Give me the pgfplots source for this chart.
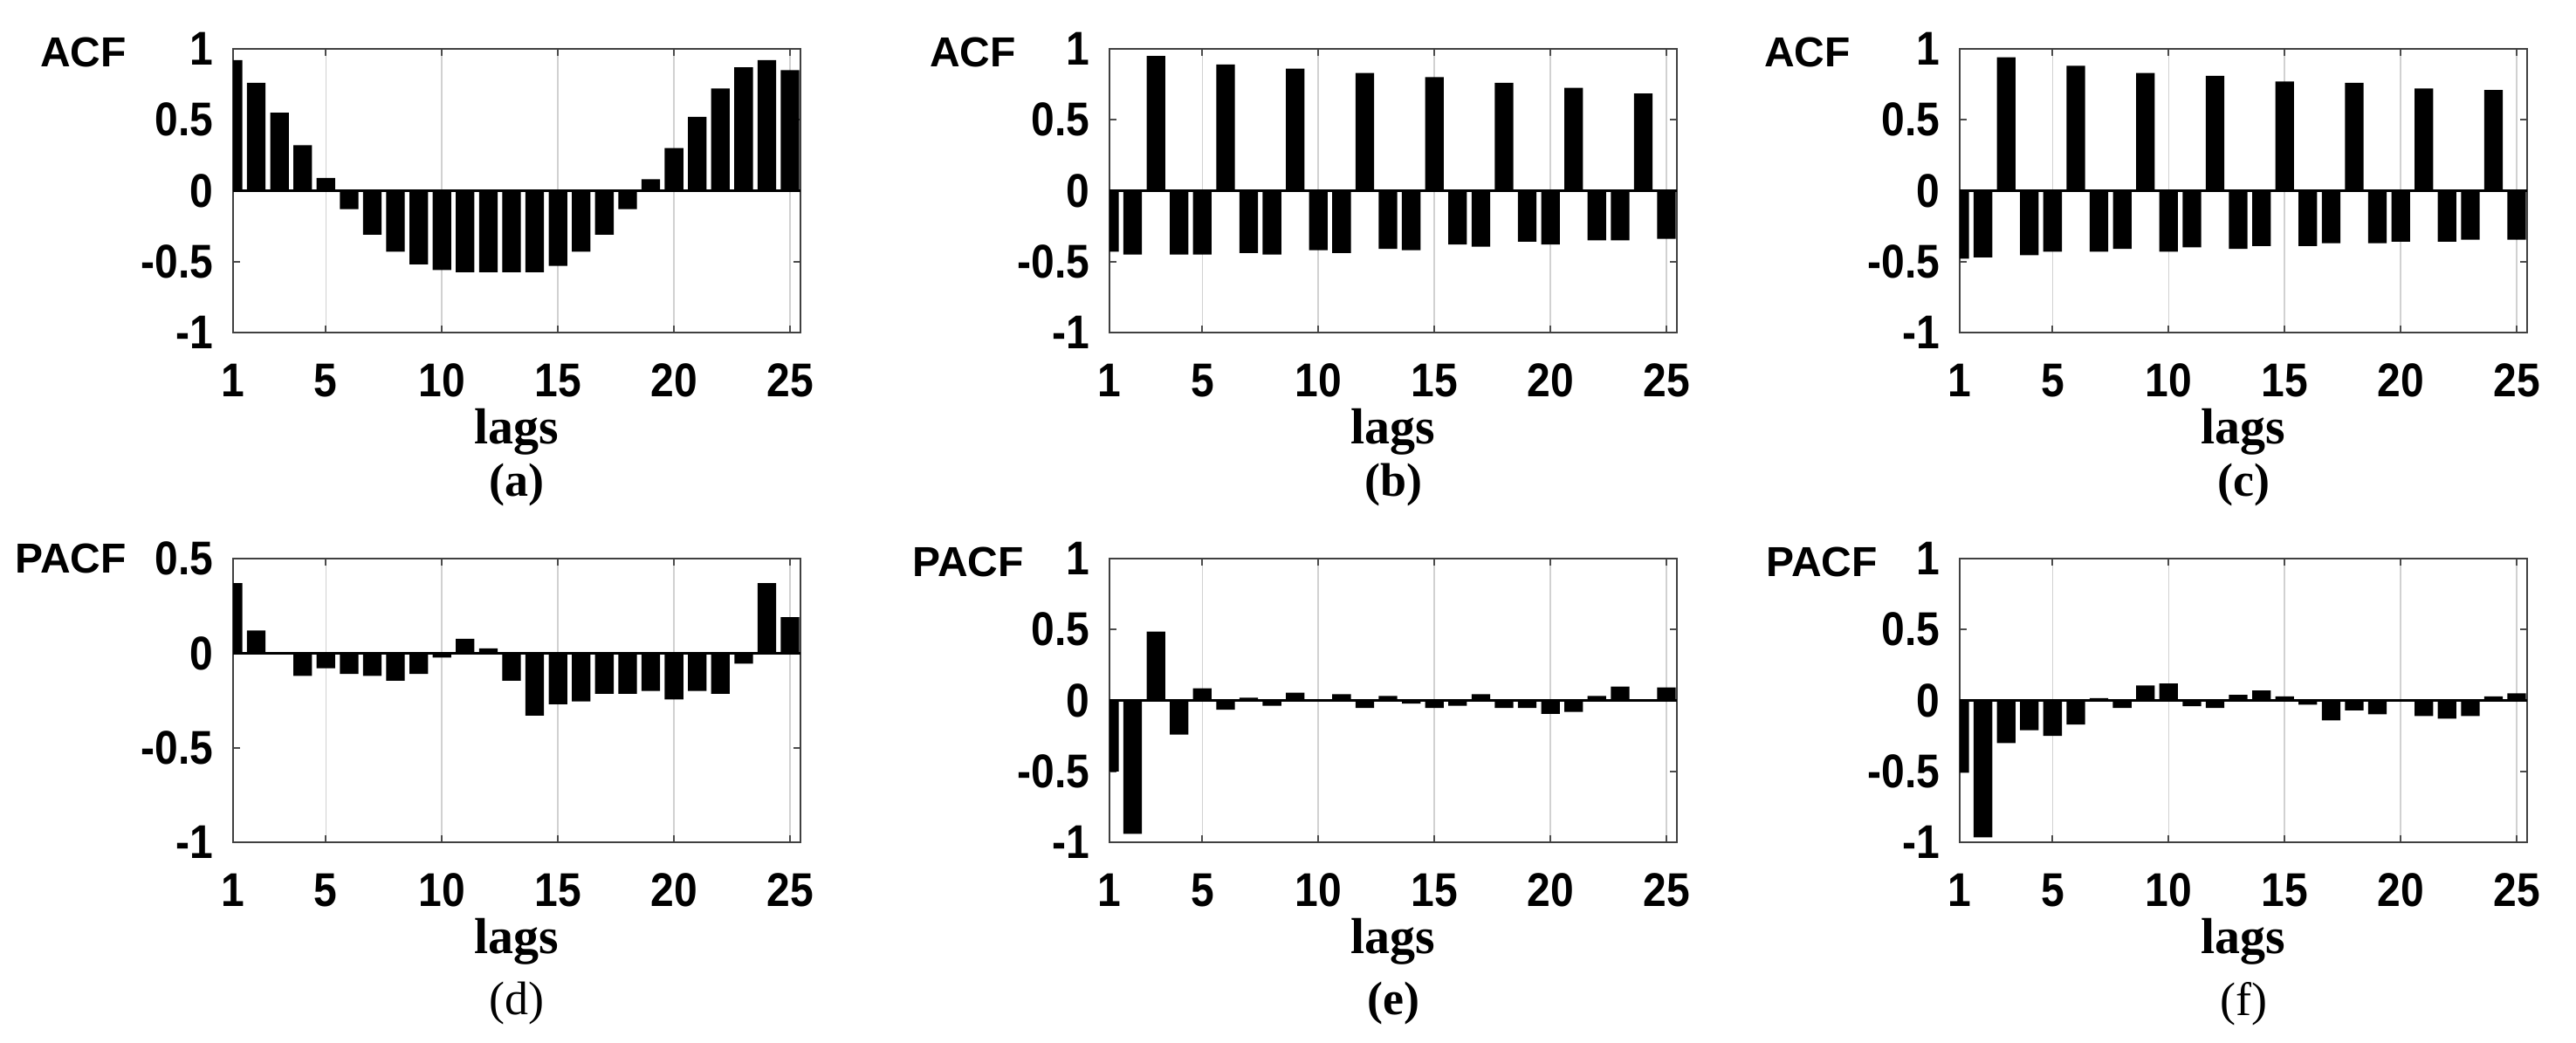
\documentclass[border=0pt]{standalone}
\usepackage{pgfplots}
\pgfplotsset{compat=1.18}
\usepackage{fontspec}
\setmainfont{Liberation Serif}
\setsansfont{Liberation Sans}
\newcommand{\tickfont}{\sffamily\bfseries\fontsize{12}{12}\selectfont}
\newcommand{\labfont}{\sffamily\bfseries\fontsize{12}{12}\selectfont}
\newcommand{\lagfont}{\rmfamily\bfseries\fontsize{14.5}{14.5}\selectfont}
\newcommand{\capfont}{\rmfamily\fontsize{13.5}{13.5}\selectfont}

\pgfplotsset{
  acf/.style={
    scale only axis, width=162.5pt, height=81.25pt,
    anchor=north west,
    xmin=1, xmax=25.45,
    xtick={1,5,10,15,20,25},
    xmajorgrids, major grid style={black!18, line width=0.4pt},
    tick align=inside, major tick length=2pt,
    tick style={black!70, line width=0.5pt},
    axis line style={black!75, line width=0.7pt},
    /pgf/number format/assume math mode=true,
    tick label style={font=\tickfont, inner sep=0pt},
    xticklabel style={anchor=center, yshift=-13.75pt},
    yticklabel style={anchor=east, xshift=-5.5pt},
    xticklabel={\scalebox{1}[1.13]{\pgfmathprintnumber{\tick}}},
    yticklabel={\scalebox{1}[1.13]{\pgfmathprintnumber{\tick}}},
  },
  bars/.style={ybar, bar width=0.8, fill=black, draw=none},
  zline/.style={black, line width=0.7pt, no marks},
}

\begin{document}
\begin{tikzpicture}
\path[use as bounding box] (0,0) rectangle (737.75pt,-298.75pt);

% (a)
\begin{axis}[acf, at={(66.75pt,-14pt)}, ymin=-1, ymax=1, ytick={-1,-0.5,0,0.5,1},
  extra description/.code={
    \node[font=\labfont, anchor=east, xshift=-27pt, yshift=-1pt] at (axis description cs:0,1) {ACF};
    \node[font=\lagfont, yshift=-28.5pt] at (axis description cs:0.5,0) {lags};
    \node[font=\capfont\bfseries, yshift=-43.75pt] at (axis description cs:0.5,0) {(a)};
  }]
\addplot[bars] coordinates {
(1,0.92) (2,0.76) (3,0.55) (4,0.32) (5,0.09) (6,-0.13) (7,-0.31) (8,-0.43) (9,-0.52) (10,-0.56)
(11,-0.575) (12,-0.575) (13,-0.575) (14,-0.575) (15,-0.53) (16,-0.43) (17,-0.31) (18,-0.13) (19,0.08) (20,0.30)
(21,0.52) (22,0.72) (23,0.87) (24,0.92) (25,0.85)};
\addplot[zline] coordinates {(1,0) (25.45,0)};
\end{axis}

% (b)
\begin{axis}[acf, at={(317.75pt,-14pt)}, ymin=-1, ymax=1, ytick={-1,-0.5,0,0.5,1},
  extra description/.code={
    \node[font=\labfont, anchor=east, xshift=-23.25pt, yshift=-1pt] at (axis description cs:0,1) {ACF};
    \node[font=\lagfont, yshift=-28.5pt] at (axis description cs:0.5,0) {lags};
    \node[font=\capfont\bfseries, yshift=-43.75pt] at (axis description cs:0.5,0) {(b)};
  }]
\addplot[bars] coordinates {
(1,-0.43) (2,-0.45) (3,0.95) (4,-0.45) (5,-0.45) (6,0.89) (7,-0.44) (8,-0.45) (9,0.86) (10,-0.42)
(11,-0.44) (12,0.83) (13,-0.41) (14,-0.42) (15,0.80) (16,-0.38) (17,-0.395) (18,0.76) (19,-0.36) (20,-0.38)
(21,0.725) (22,-0.35) (23,-0.35) (24,0.685) (25,-0.34)};
\addplot[zline] coordinates {(1,0) (25.45,0)};
\end{axis}

% (c)
\begin{axis}[acf, at={(561.25pt,-14pt)}, ymin=-1, ymax=1, ytick={-1,-0.5,0,0.5,1},
  extra description/.code={
    \node[font=\labfont, anchor=east, xshift=-27.75pt, yshift=-1pt] at (axis description cs:0,1) {ACF};
    \node[font=\lagfont, yshift=-28.5pt] at (axis description cs:0.5,0) {lags};
    \node[font=\capfont\bfseries, yshift=-43.75pt] at (axis description cs:0.5,0) {(c)};
  }]
\addplot[bars] coordinates {
(1,-0.48) (2,-0.47) (3,0.94) (4,-0.455) (5,-0.43) (6,0.88) (7,-0.43) (8,-0.41) (9,0.83) (10,-0.43)
(11,-0.40) (12,0.81) (13,-0.41) (14,-0.39) (15,0.77) (16,-0.39) (17,-0.37) (18,0.76) (19,-0.37) (20,-0.36)
(21,0.72) (22,-0.36) (23,-0.345) (24,0.71) (25,-0.345)};
\addplot[zline] coordinates {(1,0) (25.45,0)};
\end{axis}

% (d)
\begin{axis}[acf, at={(66.75pt,-160pt)}, ymin=-1, ymax=0.5, ytick={-1,-0.5,0,0.5},
  extra description/.code={
    \node[font=\labfont, anchor=east, xshift=-27pt, yshift=0pt] at (axis description cs:0,1) {PACF};
    \node[font=\lagfont, yshift=-28.5pt] at (axis description cs:0.5,0) {lags};
    \node[font=\capfont, yshift=-46.25pt] at (axis description cs:0.5,0) {(d)};
  }]
\addplot[bars] coordinates {
(1,0.37) (2,0.12) (3,0.005) (4,-0.12) (5,-0.08) (6,-0.11) (7,-0.12) (8,-0.145) (9,-0.11) (10,-0.023)
(11,0.076) (12,0.025) (13,-0.145) (14,-0.33) (15,-0.27) (16,-0.255) (17,-0.215) (18,-0.215) (19,-0.20) (20,-0.245)
(21,-0.20) (22,-0.215) (23,-0.056) (24,0.37) (25,0.19)};
\addplot[zline] coordinates {(1,0) (25.45,0)};
\end{axis}

% (e)
\begin{axis}[acf, at={(317.75pt,-160pt)}, ymin=-1, ymax=1, ytick={-1,-0.5,0,0.5,1},
  extra description/.code={
    \node[font=\labfont, anchor=east, xshift=-21pt, yshift=-1pt] at (axis description cs:0,1) {PACF};
    \node[font=\lagfont, yshift=-28.5pt] at (axis description cs:0.5,0) {lags};
    \node[font=\capfont\bfseries, yshift=-46.25pt] at (axis description cs:0.5,0) {(e)};
  }]
\addplot[bars] coordinates {
(1,-0.50) (2,-0.94) (3,0.485) (4,-0.24) (5,0.085) (6,-0.065) (7,0.02) (8,-0.037) (9,0.055) (10,0.0)
(11,0.044) (12,-0.053) (13,0.032) (14,-0.023) (15,-0.053) (16,-0.037) (17,0.044) (18,-0.053) (19,-0.053) (20,-0.095)
(21,-0.08) (22,0.032) (23,0.097) (24,0.0) (25,0.092)};
\addplot[zline] coordinates {(1,0) (25.45,0)};
\end{axis}

% (f)
\begin{axis}[acf, at={(561.25pt,-160pt)}, ymin=-1, ymax=1, ytick={-1,-0.5,0,0.5,1},
  extra description/.code={
    \node[font=\labfont, anchor=east, xshift=-20pt, yshift=-1pt] at (axis description cs:0,1) {PACF};
    \node[font=\lagfont, yshift=-28.5pt] at (axis description cs:0.5,0) {lags};
    \node[font=\capfont, yshift=-46.25pt] at (axis description cs:0.5,0) {(f)};
  }]
\addplot[bars] coordinates {
(1,-0.51) (2,-0.965) (3,-0.30) (4,-0.21) (5,-0.25) (6,-0.17) (7,0.016) (8,-0.053) (9,0.105) (10,0.12)
(11,-0.04) (12,-0.053) (13,0.04) (14,0.07) (15,0.028) (16,-0.03) (17,-0.14) (18,-0.07) (19,-0.098) (20,0.0)
(21,-0.11) (22,-0.128) (23,-0.11) (24,0.028) (25,0.05)};
\addplot[zline] coordinates {(1,0) (25.45,0)};
\end{axis}
\end{tikzpicture}
\end{document}
